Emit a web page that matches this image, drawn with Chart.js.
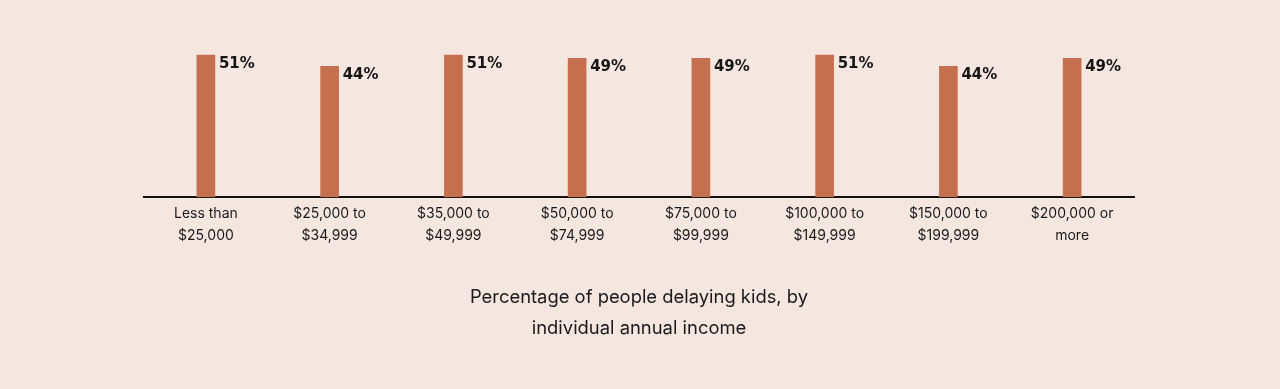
<!DOCTYPE html>
<html>
<head>
<meta charset="utf-8">
<script src="https://cdn.jsdelivr.net/npm/chart.js@4/dist/chart.umd.min.js"></script>
<style>
  html, body { margin: 0; padding: 0; background: #f5e6e0; }
  #wrap { width: 1280px; height: 389px; position: relative; }
</style>
</head>
<body>
<div id="wrap"><canvas id="c"></canvas></div>
<script>
const categories = [
  ['Less than', '$25,000'],
  ['$25,000 to', '$34,999'],
  ['$35,000 to', '$49,999'],
  ['$50,000 to', '$74,999'],
  ['$75,000 to', '$99,999'],
  ['$100,000 to', '$149,999'],
  ['$150,000 to', '$199,999'],
  ['$200,000 or', 'more']
];
const values = [51, 44, 51, 49, 49, 51, 44, 49];
const titleLines = ['Percentage of people delaying kids, by', 'individual annual income'];
const axisMin = -39;
const axisMax = 60;

const valueLabels = {
  id: 'valueLabels',
  afterDatasetsDraw(chart) {
    const ctx = chart.ctx;
    const meta = chart.getDatasetMeta(0);
    ctx.save();
    ctx.font = 'bold 15px "DejaVu Sans"';
    ctx.fillStyle = '#161616';
    ctx.textAlign = 'left';
    ctx.textBaseline = 'middle';
    meta.data.forEach((el, i) => {
      ctx.fillText(values[i] + '%', el.x + el.width / 2 + 4, el.y + 9);
    });
    ctx.restore();
  }
};

new Chart(document.getElementById('c'), {
  type: 'bar',
  data: {
    labels: categories,
    datasets: [{
      data: values,
      base: axisMin,
      backgroundColor: '#c4704f',
      barThickness: 18,
      borderWidth: 0
    }]
  },
  options: {
    responsive: true,
    maintainAspectRatio: false,
    animation: false,
    layout: { padding: { left: 144, right: 146, top: 41, bottom: 45 } },
    plugins: {
      legend: { display: false },
      tooltip: { enabled: false },
      title: {
        display: true,
        position: 'bottom',
        text: titleLines,
        color: '#1a1a1a',
        font: { family: 'Inter', size: 18.4, weight: 'normal', lineHeight: 1.68 },
        padding: { top: 0, bottom: 0 }
      }
    },
    scales: {
      x: {
        grid: { display: false, drawTicks: false },
        border: { display: true, color: '#111111', width: 2 },
        ticks: {
          color: '#1a1a1a',
          font: { family: 'Inter', size: 14, lineHeight: 1.6 },
          padding: 5,
          maxRotation: 0,
          autoSkip: false
        },
        afterFit(scale) { scale.height = 85; }
      },
      y: {
        display: false,
        min: axisMin,
        max: axisMax
      }
    }
  },
  plugins: [valueLabels]
});
</script>
</body>
</html>
